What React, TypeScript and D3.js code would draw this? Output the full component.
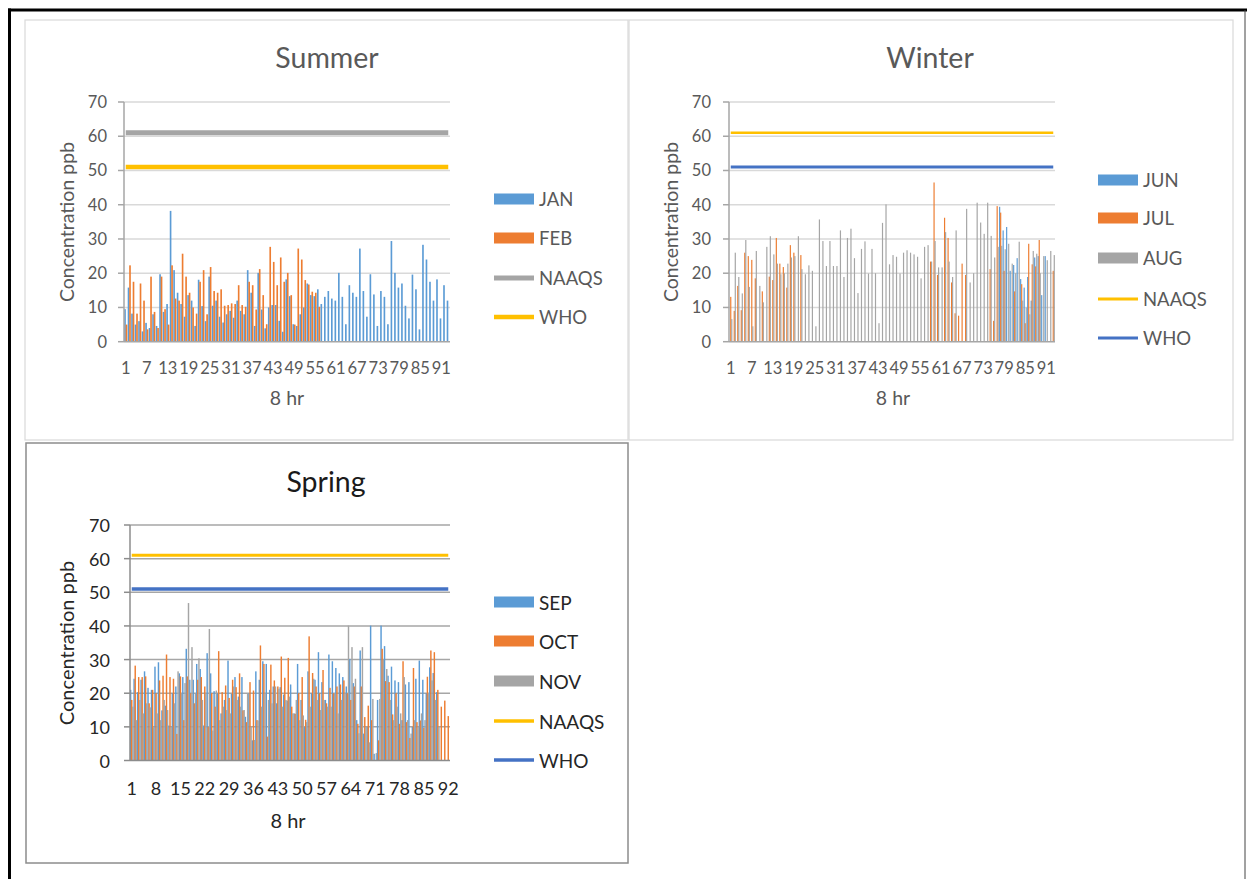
import React from "react";
import * as d3 from "d3";

const FONT = "Lato, 'Open Sans', sans-serif";

// 8 hr periods on the x axis
const SUMMER_HOURS = d3.range(1, 94);
const WINTER_HOURS = d3.range(1, 94);
const SPRING_HOURS = d3.range(1, 93);

const Y_TICKS = [0, 10, 20, 30, 40, 50, 60, 70];
const NAAQS_LIMIT = 61;
const WHO_LIMIT = 51;

const none = (n: number) => Array(n).fill(null);

// Summer
const JAN = [
  9.5, 15.8, 8.2, 5, 6, 3, 5.5, 4, 8, 4.6, 19.7, 8.7, 11, 38.2, 20.9, 14.3, 11, 7.3, 13.6, 12,
  4.6, 18.1, 10.4, 6, 19, 10.5, 12, 7.3, 5.6, 8, 9, 7, 12, 9, 8, 20.9, 14.3, 4.6, 20.1, 9.4,
  3.9, 10, 10.7, 10.7, 6.1, 2.9, 18.2, 13.3, 5.1, 4.6, 8, 10, 17, 13.6, 13.3, 15.3, 11,
  13.1, 14.8, 12.6, 12, 20.1, 13.1, 5.1, 16.5, 14.3, 13.1, 27.2, 14.8, 7.3, 19.7, 13.8, 4.6,
  14.8, 13.1, 5.1, 29.4, 20.1, 15.8, 17, 10.5, 6.8, 19.6, 15.3, 3.6, 28.3, 24, 17.5, 12, 18.2,
  6.8, 16.5, 12,
];
const FEB = [
  5, 22.3, 17.5, 8.2, 17, 12, 3.6, 19, 8.7, 4, 19, 9.5, 5, 22.3, 12.6, 12, 25.7, 19, 14.3, 10,
  8.2, 17.5, 20.9, 8, 21.8, 14.8, 14.3, 15.3, 10.5, 10.7, 11.2, 11, 16.5, 10.7, 10.2, 17.5, 16.5,
  9.4, 21.2, 13.6, 5.1, 27.7, 23.3, 16.5, 24.6, 17.5, 20.1, 13.6, 5, 27.2, 24, 18, 16.7, 14.6,
  14.3, 10.2,
];

// Winter
const JUN = [
  ...none(77),
  39.4, 32.5, 33.5, 20.7, 22.4, 24.4, 18.3, 15.8, 18.9, 12, 24.6, 25, 13.6, 25,
];
const JUL = [
  13.1, 9, 16.3, 9.2, 26, 25, 23.9, 18.5, null, 14.7, null, 19, 18, 30.3, 22.8, 21.8, 15.8, 28.2,
  26, null, 25.3,
  ...none(36),
  23.4, 46.5, 19.5, null, 36.2, 30.3, 17.3, 8.3, 7.6, 22.8, 19.5,
  ...none(6),
  21.2, 6.1, 39.6, 37.7, 20.7, null, null, 14.7, null, 16.8, 5.4, 28.6, 22.6, 22, 29.7,
  null, null, null, 20.7,
];
const AUG = [
  6.6, 26, 18.9, 14.1, 29.7, 16, 4.5, 26.5, 16.3, 11.5, 27.7, 30.8, 25.5, 22.8, 19.7, 20, 22.8,
  24.6, 25, 30.8, 21.2, 19.7, 22.3, 20.7, 4.5, 35.7, 29.4, 22.1, 29.4, 22.1, 22.1, 32.5, 18.9,
  30.3, 33, 24.4, 14.2, 27.1, 29.3, 19.9, 27.1, 20, 5.4, 34.7, 40.1, 22.6, 25.3, 24.8, 19.9, 26,
  26.7, 26, 25.5, 24.8, 18.5, 27.7, 28.2, 23.4, 29.4, 21.7, 21.7, 32, 23.4, 18.9, 32.5, null,
  null, 38.8, 17.3, 20, 40.6, 34.8, 31.5, 40.6, 30.9, 24.6, 27.7, 28, 27, 28.6, 22.8, 20, 29.2,
  12, 10, 8, 26.5, 25.7, 20, 25, 23.8, 26.5, 25.3,
];

// Spring
const SEP = [
  21, 24.3, 20.3, 24, 26.5, 21.6, 21, 27.9, 29.2, 14.9, 16.3, 10.4, 20, 22, 25.9, 24.8, 33.2, 24,
  24, 28.7, 27.2, 10.4, 31.9, 25.9, 20.6, 20, 14, 18, 29.7, 19.8, 24.8, 19, 24.8, 13, 20, 6,
  26.5, 24, 29.5, 28.7, 21, 22, 17, 21.8, 19.6, 17.8,
  22.6, 14, 28.7, 18, 10, 26.5, 20, 24, 32.2, 23.3, 18, 31.5, 29.5, 27.5, 25.9, 24.8, 22, 30.2,
  23, 12, 32.7, 8, 10, 40.1, 2, 18, 40.1, 34, 25.2, 27.9, 23.8, 23.3, 12, 22.6, 23.3, 10, 24.3,
  29.7, 24, 20, 27.7, 26, 20.3,
  ...none(3),
];
const OCT = [
  18, 28.2, 24.8, 24.8, 25, 17, 21, 20, 23.8, 25.2, 31.5, 24.8, 24.3, 7.9, 25, 12, 25, 20, 17,
  24, 24.8, 22, 10, 20, 16, 32.5, 20.3, 22.3, 18.6, 24, 21.8, 25.9, 14.9, 11.4, 23.3, 20.8, 12,
  34.2, 28.7, 7.1, 28.5, 23.8, 22, 30.9, 24.6, 30.5,
  16, 13.9, 20, 24.8, 12.1, 36.9, 26, 22, 20, 26.9, 17, 21.6, 20, 22, 22.6, 23.8, 20, 18, 22,
  10.9, 22, 12.9, 16.3, 12, null, 6, 33.2, 23.6, 23.3, 13.7, 20, 10.9, 29.5, 11.4, 6.7, 27.5,
  11.4, 11.9, 9.7, 24.9, 32.7, 32.2, 21, 16, 17.8, 13.2,
];
const NOV = [
  16, 12, 18, 14, 17, 15.8, 9.9, 14, 12, 18, 15, 10, 17, 26.5, 20, 23, 46.8, 33.7, 20, 30.4, 18,
  20, 39.1, 8.9, 20.8, 12, 16, 15, 14, 22, 18, 16, 15, 20, 10, 6.1, 11.9, 16, 20, 18, 17, 22,
  21.3, 16, 18, 19,
  14, 18, 12, 13.4, 11.4, 16, 24.3, 18, 15, 18, 16, 16, 20, 14, 18, 20, 40.1, 33.7, 24.3, 8.1,
  33.7, 10, 5.4, 18.3, 2.2, 18.3, 30, 27.2, 18, 12, 16, 14, 24.8, 12, 8, 12, 10, 14, 12, 20,
  23.8, 18, 10,
  ...none(3),
];

const BLUE = "#5b9bd5";
const ORANGE = "#ed7d31";
const GREY = "#a5a5a5";
const GOLD = "#ffc000";
const NAVY = "#4472c4";

type Series = { name: string; color: string; values: (number | null)[] };
type Limit = { name: string; color: string; width: number; legendWidth: number; value: number };

type PanelCfg = {
  frame: [number, number, number, number];
  frameColor: string;
  frameWidth: number;
  title: string;
  titleAt: [number, number];
  textColor: string;
  titleColor: string;
  gridColor: string;
  axisColor: string;
  x0: number;
  x1: number;
  y0: number;
  y70: number;
  hours: number[];
  labelEvery: number;
  pad: number;
  widen: number;
  tickSize: number;
  labelSize: number;
  series: Series[];
  limits: Limit[];
  yLabelRight: number;
  yTitleAt: [number, number];
  xLabelY: number;
  xTitleAt: [number, number];
  legendX: number;
  legendY: number[];
};

function Panel({ cfg }: { cfg: PanelCfg }) {
  const x = d3
    .scaleBand<number>()
    .domain(cfg.hours)
    .range([cfg.x0, cfg.x1])
    .paddingInner(cfg.pad)
    .paddingOuter(cfg.pad / 2);
  const sub = d3
    .scaleBand<string>()
    .domain(cfg.series.map((s) => s.name))
    .range([0, x.bandwidth()]);
  const y = d3.scaleLinear().domain([0, 70]).range([cfg.y0, cfg.y70]);
  const centre = (h: number) => (x(h) as number) + x.bandwidth() / 2;
  const barW = sub.bandwidth() * cfg.widen;
  const barShift = (barW - sub.bandwidth()) / 2;

  const [fx, fy, fw, fh] = cfg.frame;

  return (
    <g>
      <rect x={fx} y={fy} width={fw} height={fh} fill="#fff" stroke={cfg.frameColor} strokeWidth={cfg.frameWidth} />
      <text x={cfg.titleAt[0]} y={cfg.titleAt[1]} textAnchor="middle" dominantBaseline="central" fontSize={28.5} fill={cfg.titleColor}>
        {cfg.title}
      </text>

      {/* gridlines */}
      {Y_TICKS.filter((t) => t > 0).map((t) => (
        <line key={t} x1={cfg.x0} x2={cfg.x1} y1={y(t)} y2={y(t)} stroke={cfg.gridColor} strokeWidth={1.5} />
      ))}

      {/* bars */}
      {cfg.series.map((s) => (
        <g key={s.name} fill={s.color}>
          {s.values.map((v, i) =>
            v == null ? null : (
              <rect
                key={i}
                x={(x(cfg.hours[i]) as number) + (sub(s.name) as number) - barShift}
                width={barW}
                y={y(v)}
                height={y(0) - y(v)}
              />
            )
          )}
        </g>
      ))}

      {/* axes */}
      <line x1={cfg.x0} x2={cfg.x0} y1={y(0)} y2={y(70)} stroke={cfg.axisColor} strokeWidth={1.5} />
      <line x1={cfg.x0} x2={cfg.x1} y1={y(0)} y2={y(0)} stroke={cfg.axisColor} strokeWidth={1.5} />
      {Y_TICKS.map((t) => (
        <g key={t}>
          <line x1={cfg.x0 - 6} x2={cfg.x0} y1={y(t)} y2={y(t)} stroke={cfg.axisColor} strokeWidth={1.5} />
          <text x={cfg.yLabelRight} y={y(t)} textAnchor="end" dominantBaseline="central" fontSize={cfg.tickSize} fill={cfg.textColor}>
            {t}
          </text>
        </g>
      ))}
      {cfg.hours
        .filter((_, i) => i % cfg.labelEvery === 0)
        .map((h) => (
          <text key={h} x={centre(h)} y={cfg.xLabelY} textAnchor="middle" dominantBaseline="central" fontSize={cfg.tickSize} fill={cfg.textColor}>
            {h}
          </text>
        ))}

      {/* limit lines */}
      {cfg.limits.map((l) => (
        <path
          key={l.name}
          d={d3.line<number>().x((h) => centre(h)).y(() => y(l.value))(cfg.hours) || ""}
          fill="none"
          stroke={l.color}
          strokeWidth={l.width}
        />
      ))}

      <text
        transform={`translate(${cfg.yTitleAt[0]},${cfg.yTitleAt[1]}) rotate(-90)`}
        textAnchor="middle"
        dominantBaseline="central"
        fontSize={cfg.labelSize + 1}
        fill={cfg.textColor}
      >
        Concentration ppb
      </text>
      <text x={cfg.xTitleAt[0]} y={cfg.xTitleAt[1]} textAnchor="middle" dominantBaseline="central" fontSize={cfg.labelSize + 1} fill={cfg.textColor}>
        8 hr
      </text>

      {/* legend */}
      {cfg.series.map((s, i) => (
        <g key={s.name}>
          <rect x={cfg.legendX} y={cfg.legendY[i] - 5.5} width={40} height={11} fill={s.color} />
          <text x={cfg.legendX + 45} y={cfg.legendY[i]} dominantBaseline="central" fontSize={cfg.labelSize} fill={cfg.textColor}>
            {s.name}
          </text>
        </g>
      ))}
      {cfg.limits.map((l, j) => {
        const ly = cfg.legendY[cfg.series.length + j];
        return (
          <g key={l.name}>
            <line x1={cfg.legendX} x2={cfg.legendX + 40} y1={ly} y2={ly} stroke={l.color} strokeWidth={l.legendWidth} />
            <text x={cfg.legendX + 45} y={ly} dominantBaseline="central" fontSize={cfg.labelSize} fill={cfg.textColor}>
              {l.name}
            </text>
          </g>
        );
      })}
    </g>
  );
}

const summer: PanelCfg = {
  frame: [25, 20, 603, 420],
  frameColor: "#d9d9d9",
  frameWidth: 1.2,
  title: "Summer",
  titleAt: [327, 57],
  textColor: "#595959",
  titleColor: "#595959",
  gridColor: "#d9d9d9",
  axisColor: "#a6a6a6",
  x0: 124,
  x1: 450,
  y0: 341.7,
  y70: 102,
  hours: SUMMER_HOURS,
  labelEvery: 6,
  pad: 0.15,
  widen: 1.1,
  tickSize: 16.5,
  labelSize: 18.5,
  series: [
    { name: "JAN", color: BLUE, values: JAN },
    { name: "FEB", color: ORANGE, values: FEB },
  ],
  limits: [
    { name: "NAAQS", color: GREY, width: 5, legendWidth: 5, value: NAAQS_LIMIT },
    { name: "WHO", color: GOLD, width: 4.5, legendWidth: 4.5, value: WHO_LIMIT },
  ],
  yLabelRight: 107,
  yTitleAt: [66, 222],
  xLabelY: 368,
  xTitleAt: [287, 397],
  legendX: 494,
  legendY: [199, 238, 278, 317],
};

const winter: PanelCfg = {
  frame: [629, 20, 604, 420],
  frameColor: "#d9d9d9",
  frameWidth: 1.2,
  title: "Winter",
  titleAt: [930, 57],
  textColor: "#595959",
  titleColor: "#595959",
  gridColor: "#d9d9d9",
  axisColor: "#a6a6a6",
  x0: 729,
  x1: 1055,
  y0: 341.7,
  y70: 102,
  hours: WINTER_HOURS,
  labelEvery: 6,
  pad: 0.12,
  widen: 1.15,
  tickSize: 16.5,
  labelSize: 18.5,
  series: [
    { name: "JUN", color: BLUE, values: JUN },
    { name: "JUL", color: ORANGE, values: JUL },
    { name: "AUG", color: GREY, values: AUG },
  ],
  limits: [
    { name: "NAAQS", color: GOLD, width: 2.5, legendWidth: 3, value: NAAQS_LIMIT },
    { name: "WHO", color: NAVY, width: 3, legendWidth: 3, value: WHO_LIMIT },
  ],
  yLabelRight: 711,
  yTitleAt: [670, 222],
  xLabelY: 368,
  xTitleAt: [893, 397],
  legendX: 1098,
  legendY: [180, 218, 258, 299, 338],
};

const spring: PanelCfg = {
  frame: [26, 443, 602, 420],
  frameColor: "#8c8c8c",
  frameWidth: 1.5,
  title: "Spring",
  titleAt: [326, 481],
  textColor: "#262626",
  titleColor: "#1a1a1a",
  gridColor: "#a6a6a6",
  axisColor: "#8c8c8c",
  x0: 130,
  x1: 450,
  y0: 760.5,
  y70: 525,
  hours: SPRING_HOURS,
  labelEvery: 7,
  pad: 0.04,
  widen: 1.3,
  tickSize: 18,
  labelSize: 19,
  series: [
    { name: "SEP", color: BLUE, values: SEP },
    { name: "OCT", color: ORANGE, values: OCT },
    { name: "NOV", color: GREY, values: NOV },
  ],
  limits: [
    { name: "NAAQS", color: GOLD, width: 3, legendWidth: 3.5, value: NAAQS_LIMIT },
    { name: "WHO", color: NAVY, width: 3.5, legendWidth: 3.5, value: WHO_LIMIT },
  ],
  yLabelRight: 110,
  yTitleAt: [66, 643],
  xLabelY: 788,
  xTitleAt: [288, 820],
  legendX: 494,
  legendY: [602, 641, 681, 721, 760],
};

export default function App() {
  return (
    <svg
      width={1250}
      height={879}
      style={{ position: "absolute", left: 0, top: 0, background: "#fff" }}
      fontFamily={FONT}
    >
      <rect x={0} y={0} width={1250} height={879} fill="#fff" />
      <Panel cfg={summer} />
      <Panel cfg={winter} />
      <Panel cfg={spring} />
      {/* outer frame */}
      <line x1={8} x2={1247} y1={10} y2={10} stroke="#000" strokeWidth={3} />
      <line x1={9.5} x2={9.5} y1={8.5} y2={879} stroke="#000" strokeWidth={3} />
      <line x1={1245} x2={1245} y1={10} y2={879} stroke="#444" strokeWidth={1} />
    </svg>
  );
}
